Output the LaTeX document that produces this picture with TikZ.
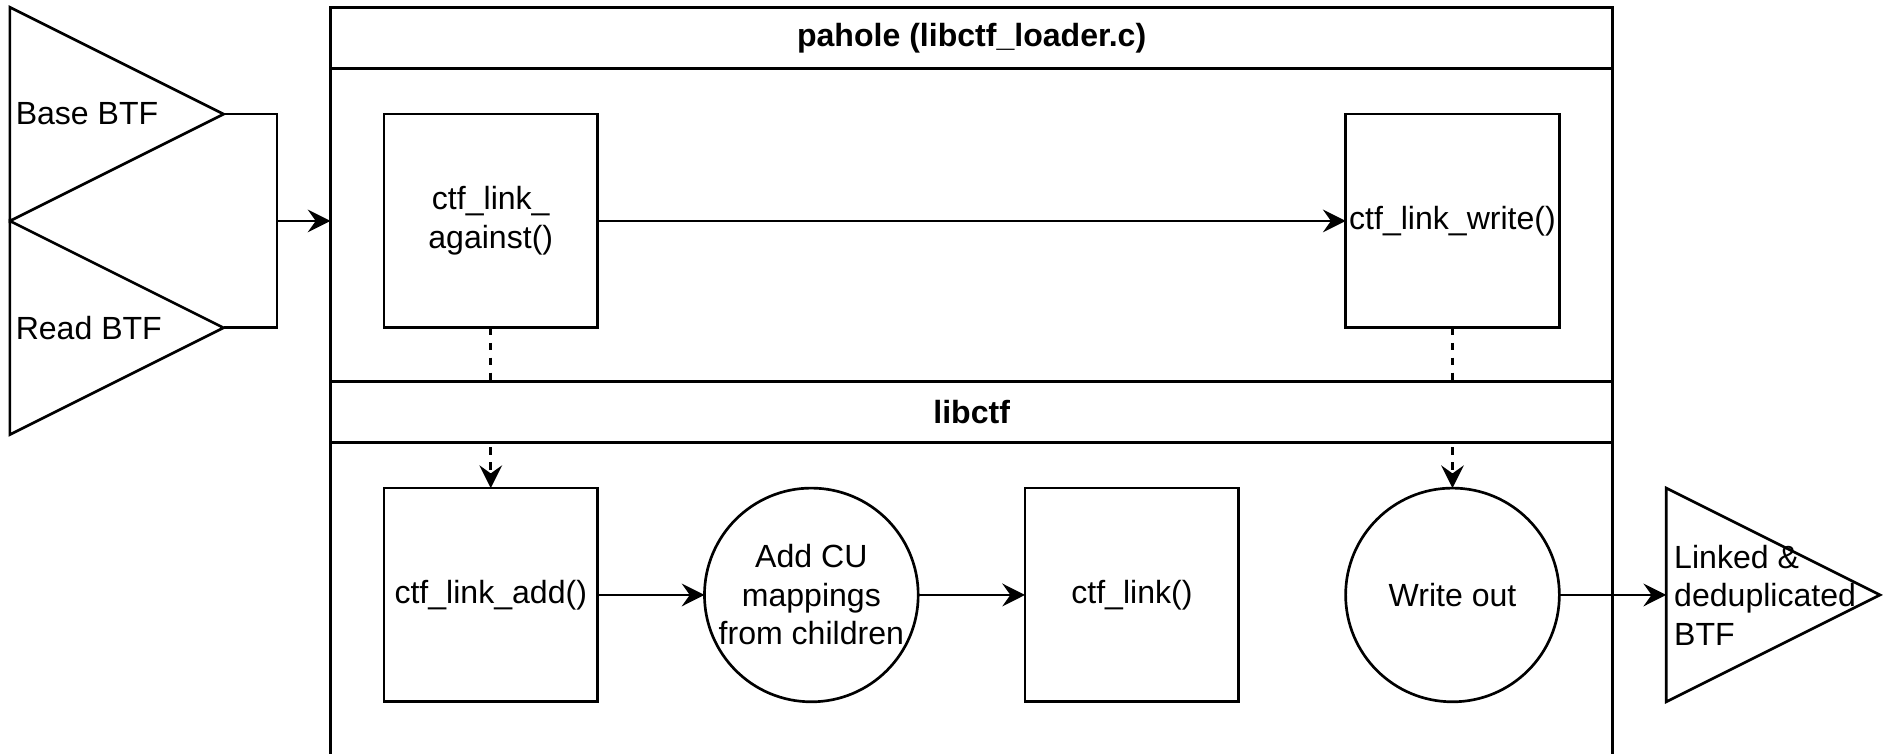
\documentclass[tikz,border=0pt]{standalone}
\usepackage{fontspec}
\setmainfont{Liberation Sans}
\usetikzlibrary{arrows.meta, positioning, shapes.geometric}

\begin{document}
\begin{tikzpicture}[x=1pt, y=-1pt, line width=1pt,
    font=\fontsize{12pt}{14.4pt}\selectfont,
    box/.style={draw, rectangle, minimum size=80pt, inner sep=0pt, outer sep=0pt, align=center},
    blob/.style={draw, circle, minimum size=80pt, inner sep=0pt, outer sep=0pt, align=center},
    btf/.style={draw, isosceles triangle, isosceles triangle stretches, shape border rotate=0,
        minimum width=80pt, minimum height=80pt, inner sep=0pt, outer sep=0pt},
    lane/.style={draw, fill=white, rectangle, minimum width=480pt, minimum height=23pt,
        inner sep=0pt, outer sep=0pt, font=\fontsize{12pt}{14.4pt}\selectfont\bfseries},
    flow/.style={-{Stealth[length=8.5pt, width=8.5pt, inset=3pt]}},
    call/.style={flow, dash pattern=on 2.8pt off 2.8pt}]
  \useasboundingbox (-3.7,-2.7) rectangle (701.9,279.2);

  % input BTF
  \node[btf, anchor=lower side, label={[anchor=west, inner sep=1.7pt]west:Base BTF}] (base) at (0,40) {};
  \node[btf, anchor=lower side, label={[anchor=west, inner sep=1.7pt]west:Read BTF}] (read) at (0,120) {};

  % pahole lane
  \node[lane, anchor=north west] (pahole) at (120,0) {pahole (libctf\_loader.c)};
  \draw (pahole.south west) rectangle (600,140);
  \node[box] (against) at (180,80) {ctf\_link\_\\against()};
  \node[box] (write) at (540,80) {ctf\_link\_write()};

  % libctf lane contents
  \node[box] (add) at (180,220) {ctf\_link\_add()};
  \node[blob, right=40pt of add] (mappings) {Add CU\\mappings\\from children};
  \node[box, right=40pt of mappings] (link) {ctf\_link()};
  \node[blob] (writeout) at (540,220) {Write out};

  % output BTF
  \node[btf, anchor=lower side,
    label={[anchor=west, inner sep=2.5pt, align=left]west:Linked \&\\deduplicated\\BTF}] (linked) at (620,220) {};

  % connectors
  \coordinate (join) at (100,80);
  \coordinate (entry) at (pahole.west |- against);
  \draw (base.apex) -| (join);
  \draw (read.apex) -| (join);
  \draw[flow] (join) -- (entry);
  \draw[flow] (against) -- (write);
  \draw[call] (against) -- (add);
  \draw[call] (write) -- (writeout);
  \draw[flow] (add) -- (mappings);
  \draw[flow] (mappings) -- (link);
  \draw[flow] (writeout) -- (linked.lower side);

  % libctf lane (drawn last, covers the dashed calls)
  \node[lane, anchor=north west] (libctf) at (120,140) {libctf};
  \draw (libctf.south west) -- ++(0,130);
  \draw (libctf.south east) -- ++(0,130);
\end{tikzpicture}
\end{document}
